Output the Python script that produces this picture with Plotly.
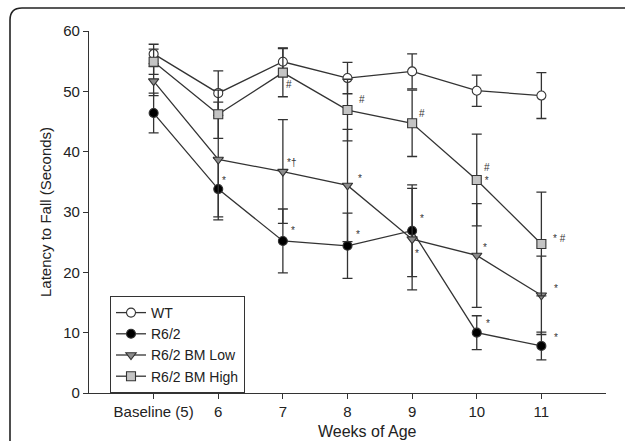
import plotly.graph_objects as go

weeks = ["Baseline (5)", "6", "7", "8", "9", "10", "11"]
wt = [56.2, 49.7, 54.9, 52.2, 53.3, 50.1, 49.3]
wt_err = [1.6, 3.7, 2.3, 2.6, 2.9, 2.6, 3.8]
r62 = [46.4, 33.8, 25.2, 24.4, 26.9, 10.0, 7.8]
r62_err = [3.3, 5.1, 5.3, 5.4, 7.6, 2.8, 2.3]
bm_low = [51.7, 38.7, 36.7, 34.4, 25.5, 22.8, 16.2]
bm_low_err = [2.4, 9.5, 8.6, 9.3, 8.4, 8.6, 6.5]
bm_high = [54.9, 46.2, 53.1, 46.9, 44.7, 35.3, 24.7]
bm_high_err = [2.1, 4.0, 4.0, 5.1, 5.5, 7.6, 8.6]

# significance marks: week index, value, label
sig_week = [1, 2, 2, 2, 3, 3, 3, 4, 4, 4, 5, 5, 5, 6, 6, 6]
sig_value = [35.6, 51.4, 38.5, 27.2, 48.9, 35.9, 26.6, 46.6, 29.3, 23.4,
             36.6, 24.5, 11.9, 25.9, 17.6, 9.5]
sig_text = ["*", "#", "*†", "*", "#", "*", "*", "#", "*", "*",
            "#<br>*", "*", "*", "* #", "*", "*"]
sig_dx = [6, 6, 9, 10, 14, 12, 10, 10, 10, 5, 10, 8, 11, 18, 15, 15]

x_title = "Weeks of Age"
y_title = "Latency to Fall (Seconds)"

xs = list(range(len(weeks)))
line_col = "#333333"
FONT = "Liberation Sans, Arial, sans-serif"

fig = go.Figure()

def add(name, y, err, symbol, fill):
    fig.add_trace(go.Scatter(
        x=xs, y=y, name=name, mode="lines+markers",
        line=dict(color=line_col, width=1.3),
        marker=dict(symbol=symbol, size=9, color=fill,
                    line=dict(color=line_col, width=1.1)),
        error_y=dict(type="data", array=err, visible=True,
                     color=line_col, thickness=1.3, width=5),
    ))

add("WT", wt, wt_err, "circle", "white")
add("R6/2", r62, r62_err, "circle", "black")
add("R6/2 BM Low", bm_low, bm_low_err, "triangle-down", "#8c8c8c")
add("R6/2 BM High", bm_high, bm_high_err, "square", "#c4c4c4")

for wx, vy, t, dx in zip(sig_week, sig_value, sig_text, sig_dx):
    fig.add_annotation(x=wx, y=vy, text=t, showarrow=False, xshift=dx,
                       yshift=-2,
                       font=dict(size=10, color="#333333", family=FONT))

# plot area in pixels
L, W, T, H = 89, 517, 31, 362
def px(x):
    return (x - L) / W
def py(y):
    return (T + H - y) / H

# axis titles placed as annotations
fig.add_annotation(x=px(367), y=py(431), xref="paper", yref="paper",
                   text=x_title, showarrow=False, xanchor="center",
                   yanchor="middle", font=dict(size=16, color="#222222"))
fig.add_annotation(x=px(45), y=py(212), xref="paper", yref="paper",
                   text=y_title, showarrow=False, textangle=-90,
                   xanchor="center", yanchor="middle",
                   font=dict(size=15, color="#222222"))

# outer rounded frame
x0, yt = px(10), py(8)
rx, ry = 12 / W, 12 / H
path = (f"M {x0},{py(460)} L {x0},{yt - ry} Q {x0},{yt} {x0 + rx},{yt} "
        f"L {px(640)},{yt}")
fig.add_shape(type="path", path=path, xref="paper", yref="paper",
              line=dict(color="#222222", width=1.6))

fig.update_layout(
    width=625, height=441,
    margin=dict(l=L, r=625 - (L + W), t=T, b=441 - (T + H)),
    paper_bgcolor="white", plot_bgcolor="white",
    font=dict(family=FONT, size=15, color="#222222"),
    showlegend=True,
    legend=dict(x=px(110), y=py(296), xanchor="left", yanchor="top",
                bordercolor="#333333", borderwidth=1, bgcolor="white",
                font=dict(size=14), tracegroupgap=0),
    xaxis=dict(range=[-1, 7], tickmode="array", tickvals=xs, ticktext=weeks,
               showgrid=False, zeroline=False, showline=True,
               linecolor=line_col, linewidth=1.3, ticks="outside",
               ticklen=5, tickcolor=line_col, tickwidth=1.2,
               tickfont=dict(size=15)),
    yaxis=dict(range=[0, 60], tickvals=[0, 10, 20, 30, 40, 50, 60],
               showgrid=False, zeroline=False, showline=True,
               linecolor=line_col, linewidth=1.3, ticks="outside",
               ticklen=5, tickcolor=line_col, tickwidth=1.2,
               tickfont=dict(size=15)),
)

fig.write_html("out.html",
               config={"displayModeBar": False},
               post_script="document.body.style.margin='0';"
                           "document.body.style.overflow='hidden';")
